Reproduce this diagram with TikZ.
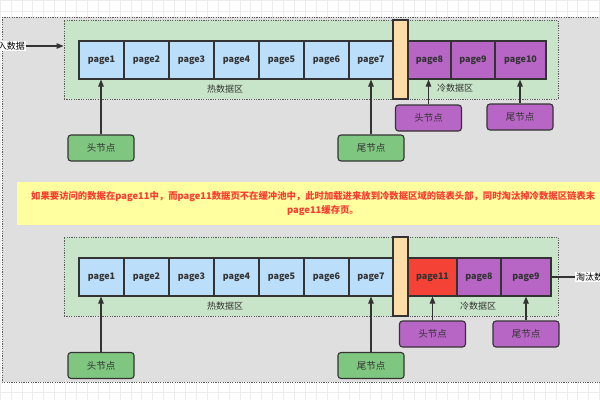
\documentclass[tikz,border=0pt]{standalone}
\usepackage{fontspec}
\setmainfont{Noto Sans CJK SC}
\usetikzlibrary{arrows.meta}
\definecolor{bgray}{HTML}{DFDFDF}
\definecolor{zgreen}{HTML}{C9E5C9}
\definecolor{pblue}{HTML}{BBDEFB}
\definecolor{porange}{HTML}{FFDDA8}
\definecolor{ppurple}{HTML}{B866C6}
\definecolor{pred}{HTML}{F44336}
\definecolor{ngreen}{HTML}{7FC680}
\definecolor{nyellow}{HTML}{FFFFA0}
\definecolor{tred}{HTML}{FF3B30}
\definecolor{dk}{HTML}{333333}
\tikzset{
  pagebox/.style={draw=dk,line width=1.1pt,minimum height=38pt,inner sep=0pt,font=\fontsize{9}{10}\selectfont\bfseries,text=dk},
  hotpage/.style={pagebox,fill=pblue},
  coldpage/.style={pagebox,fill=ppurple},
  zone/.style={draw=dk!80,fill=zgreen,line width=0.9pt,dash pattern=on 1.2pt off 1.2pt,minimum width=494pt,minimum height=79pt,inner sep=0pt},
  ptr/.style={draw=dk,line width=1.1pt,rounded corners=3pt,minimum width=66pt,minimum height=26pt,inner sep=0pt,font=\fontsize{9.5}{10}\selectfont,text=dk},
  gptr/.style={ptr,fill=ngreen},
  pptr/.style={ptr,fill=ppurple},
  arr/.style={draw=dk,line width=1.1pt,-{Triangle[length=7pt,width=5.5pt]}},
  zlabel/.style={font=\fontsize{9}{10}\selectfont,text=dk},
  side/.style={fill=white,inner sep=1pt,font=\fontsize{9}{10}\selectfont,text=black},
  note/.style={text=tred,font=\fontsize{9.35}{11}\selectfont\bfseries,inner sep=0pt}
}
\begin{document}
\begin{tikzpicture}[x=1pt,y=-1pt]
\useasboundingbox (0,0) rectangle (600,400);
\clip (0,0) rectangle (600,400);
% grid background
\fill[white] (0,0) rectangle (600,400);
\draw[black!7,line width=0.5pt,step=10.9pt] (0,0) grid (600,400);
% outer gray area
\draw[fill=bgray,draw=dk!80,line width=0.9pt,dash pattern=on 1.2pt off 1.2pt] (2,17) rectangle (612,382);

% ===== top section =====
\node[zone] (z1) at (311,59.5) {};
\node[draw=dk,line width=1.1pt,fill=porange,minimum width=15pt,minimum height=79pt,inner sep=0pt] (o1) at (400.5,59.5) {};
\node[hotpage,minimum width=45pt] (a1) at (101.5,60) {page1};
\node[hotpage,minimum width=45pt] (a2) at (146.5,60) {page2};
\node[hotpage,minimum width=45pt] (a3) at (191.5,60) {page3};
\node[hotpage,minimum width=45pt] (a4) at (236.5,60) {page4};
\node[hotpage,minimum width=45pt] (a5) at (281.5,60) {page5};
\node[hotpage,minimum width=45pt] (a6) at (326.5,60) {page6};
\node[hotpage,minimum width=44pt] (a7) at (371,60) {page7};
\node[coldpage,minimum width=43pt] (a8) at (429.5,60) {page8};
\node[coldpage,minimum width=44pt] (a9) at (473,60) {page9};
\node[coldpage,minimum width=51pt] (a10) at (520.5,60) {page10};
\node[zlabel] (h1) at (225,89) {热数据区};
\node[zlabel] (c1) at (455,88) {冷数据区};

\node[side,anchor=east] (in) at (26,46) {写入数据};
\draw[arr] (in.east) -- (in.east -| z1.west);

\node[gptr] (gh1) at (101,148) {头节点};
\node[gptr] (gt1) at (371,148) {尾节点};
\node[pptr] (ph1) at (428.5,118) {头节点};
\node[pptr] (pt1) at (520,117) {尾节点};
\draw[arr] (gh1.north) -- (gh1.north |- a1.south);
\draw[arr] (gt1.north) -- (gt1.north |- a7.south);
\draw[arr] (ph1.north) -- (ph1.north |- a8.south);
\draw[arr] (pt1.north) -- (pt1.north |- a10.south);

% ===== note =====
\node[fill=nyellow,minimum width=612pt,minimum height=43pt,inner sep=0pt] (nt) at (323,203.5) {};
\node[note,anchor=west] (n1) at (31,197) {如果要访问的数据在page11中，而page11数据页不在缓冲池中，此时加载进来放到冷数据区域的链表头部，同时淘汰掉冷数据区链表末};
\node[note] (n2) at (323,210.5) {page11缓存页。};

% ===== bottom section =====
\node[zone] (z2) at (311,276.5) {};
\node[draw=dk,line width=1.1pt,fill=porange,minimum width=15pt,minimum height=79pt,inner sep=0pt] (o2) at (400.5,276.5) {};
\node[hotpage,minimum width=45pt] (b1) at (101.5,277) {page1};
\node[hotpage,minimum width=45pt] (b2) at (146.5,277) {page2};
\node[hotpage,minimum width=45pt] (b3) at (191.5,277) {page3};
\node[hotpage,minimum width=45pt] (b4) at (236.5,277) {page4};
\node[hotpage,minimum width=45pt] (b5) at (281.5,277) {page5};
\node[hotpage,minimum width=45pt] (b6) at (326.5,277) {page6};
\node[hotpage,minimum width=44pt] (b7) at (371,277) {page7};
\node[pagebox,fill=pred,minimum width=49pt] (b11) at (432.5,277) {page11};
\node[coldpage,minimum width=44pt] (b8) at (479,277) {page8};
\node[coldpage,minimum width=50pt] (b9) at (526,277) {page9};
\node[zlabel] (h2) at (225,306) {热数据区};
\node[zlabel] (c2) at (478,306) {冷数据区};

\node[side,anchor=west] (out) at (575,277) {淘汰数据};
\draw[draw=dk,line width=1.1pt] (b9.east) -- (out.west);

\node[gptr] (gh2) at (101,365.5) {头节点};
\node[gptr] (gt2) at (371,365.5) {尾节点};
\node[pptr] (ph2) at (432.5,334) {头节点};
\node[pptr] (pt2) at (526,334) {尾节点};
\draw[arr] (gh2.north) -- (gh2.north |- b1.south);
\draw[arr] (gt2.north) -- (gt2.north |- b7.south);
\draw[arr] (ph2.north) -- (ph2.north |- b11.south);
\draw[arr] (pt2.north) -- (pt2.north |- b9.south);
\end{tikzpicture}
\end{document}
